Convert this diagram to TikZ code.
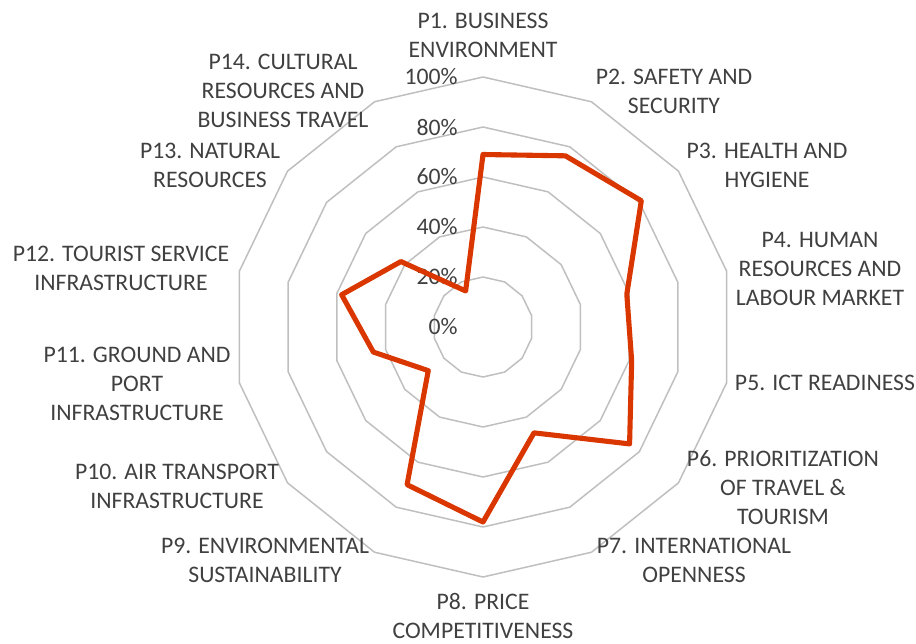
\documentclass[tikz,border=0pt]{standalone}
\usepackage{fontspec}
\setmainfont{Carlito}
\definecolor{ringgray}{RGB}{191,191,191}
\definecolor{datared}{RGB}{218,54,0}
\definecolor{labelgray}{RGB}{64,64,64}
\tikzset{
  ring/.style={draw=ringgray, line width=0.85pt, line join=round},
  dataline/.style={draw=datared, line width=2.9pt, line join=round},
  pillar/.style={text=labelgray, align=center, inner sep=0pt, font=\fontsize{13.5}{16.5}\selectfont},
  pct/.style={text=labelgray, anchor=east, inner sep=0pt, font=\fontsize{13.5}{16.5}\selectfont}
}
\begin{document}
\begin{tikzpicture}[x=0.02cm, y=0.02cm]
\useasboundingbox (-483,-316) rectangle (433,327);

% rings at 20% steps
\foreach \r in {1,...,5}
  \draw[ring] (90:{\r*50}) \foreach \k in {1,...,13} { -- ({90-\k*360/14}:{\r*50}) } -- cycle;

% scale labels
\foreach \r in {0,...,5}
  \node[pct] (pct\r) at (-25,{\r*50}) {\number\numexpr\r*20\relax\%};

% scores
\foreach \v [count=\k] in {69,76,81,59,61,75,47,78,70,28,45,58,42,16}
  \coordinate (d\k) at ({90-(\k-1)*360/14}:{\v*2.5});
\draw[dataline] (d1) \foreach \k in {2,...,14} { -- (d\k) } -- cycle;

% pillar names
\node[pillar] (p1)  at (0,292)     {P1. BUSINESS\\ENVIRONMENT};
\node[pillar] (p2)  at (191,236)   {P2. SAFETY AND\\SECURITY};
\node[pillar] (p3)  at (284,162)   {P3. HEALTH AND\\HYGIENE};
\node[pillar] (p4)  at (337,58)    {P4. HUMAN\\RESOURCES AND\\LABOUR MARKET};
\node[pillar] (p5)  at (342,-56)   {P5. ICT READINESS};
\node[pillar] (p6)  at (300,-161)  {P6. PRIORITIZATION\\OF TRAVEL \&\\TOURISM};
\node[pillar] (p7)  at (211,-233)  {P7. INTERNATIONAL\\OPENNESS};
\node[pillar] (p8)  at (0,-289)    {P8. PRICE\\COMPETITIVENESS};
\node[pillar] (p9)  at (-218,-233) {P9. ENVIRONMENTAL\\SUSTAINABILITY};
\node[pillar] (p10) at (-306,-159) {P10. AIR TRANSPORT\\INFRASTRUCTURE};
\node[pillar] (p11) at (-346,-57)  {P11. GROUND AND\\PORT\\INFRASTRUCTURE};
\node[pillar] (p12) at (-362,59)   {P12. TOURIST SERVICE\\INFRASTRUCTURE};
\node[pillar] (p13) at (-273,162)  {P13. NATURAL\\RESOURCES};
\node[pillar] (p14) at (-200,236)  {P14. CULTURAL\\RESOURCES AND\\BUSINESS TRAVEL};
\end{tikzpicture}
\end{document}
